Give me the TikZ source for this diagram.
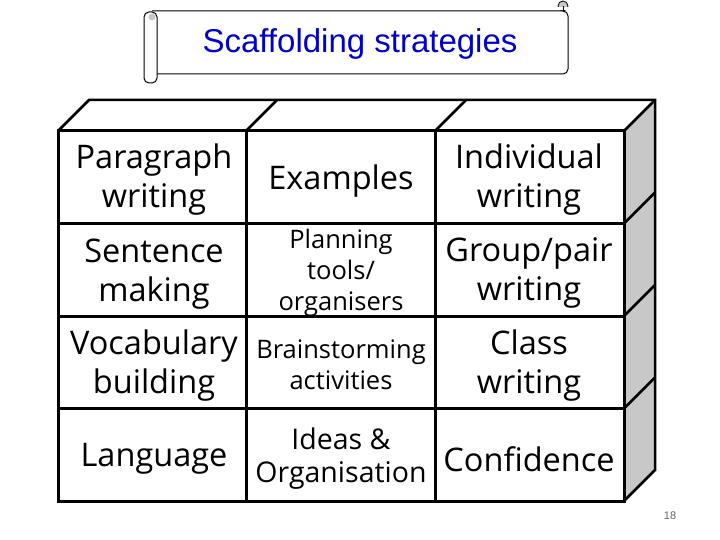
\documentclass[tikz,border=0pt]{standalone}
\usepackage{fontspec}
\setmainfont{Liberation Sans}
\newfontfamily\cellfont{Open Sans}
\usetikzlibrary{calc}
\definecolor{titleblue}{RGB}{0,0,204}
\definecolor{sidegray}{RGB}{200,200,200}
\tikzset{
  cell/.style={align=center, inner sep=0pt, font=\cellfont\fontsize{32.5}{39}\selectfont},
  smallcell/.style={cell, font=\cellfont\fontsize{25.5}{31}\selectfont},
  boxline/.style={line width=3pt},
}

\begin{document}
\begin{tikzpicture}[x=1pt, y=-1pt]
    \useasboundingbox (0,0) rectangle (720,540);
    % title scroll
    \draw[line width=1pt, rounded corners=5pt] (152,11) -- (568,11) -- (568,74) -- (155,74);
    \fill[sidegray] (563,6) circle (5pt);
    \draw[line width=0.8pt] (563,6) circle (5pt);
    \fill[white] (557,7) rectangle (567.5,10.5);
    \draw[line width=0.8pt] (563,6) -- (563,11);
    \draw[line width=1pt, fill=white, rounded corners=5pt] (144,12) rectangle (157,83);
    \fill[sidegray] (152,17) circle (3.5pt);
    \node[font=\fontsize{33}{40}\selectfont, text=titleblue] (title) at (360,44) {Scaffolding strategies};
    % side face
    \fill[sidegray] (624,131) -- (655,100) -- (655,470) -- (624,501) -- cycle;
    % front grid
    \draw[boxline] (58,131) rectangle (624,501);
    \foreach \y in {223.5,316,408.5}
        \draw[boxline] (58,\y) -- (624,\y);
    \foreach \x in {246,435}
        \draw[boxline] (\x,131) -- (\x,501);
    % top and side outline
    \draw[line width=2.5pt, line join=miter] (58,131) -- (89,100) -- (655,100) -- (655,470) -- (624,501);
    \foreach \x in {246,435,624}
        \draw[line width=2.5pt] (\x,131) -- ++(31,-31);
    \foreach \y in {223.5,316,408.5}
        \draw[line width=2.5pt] (624,\y) -- ++(31,-31);
    % cells
    \node[cell] (para) at (154,180) {Paragraph\\writing};
    \node[cell] (examples) at (341,181) {Examples};
    \node[cell] (indiv) at (529,180) {Individual\\writing};
    \node[cell] (sentence) at (154,274) {Sentence\\making};
    \node[smallcell] (planning) at (341,273) {Planning\\tools/\\organisers};
    \node[cell] (group) at (529,273) {Group/pair\\writing};
    \node[cell] (vocab) at (154,366) {Vocabulary\\building};
    \node[smallcell] (brain) at (341,365) {Brainstorming\\activities};
    \node[cell] (class) at (529,366) {Class\\writing};
    \node[cell] (language) at (154,459) {Language};
    \node[smallcell, font=\cellfont\fontsize{28.5}{33}\selectfont] (ideas) at (341,459) {Ideas \&\\Organisation};
    \node[cell] (confidence) at (529,459) {Confidence};
    % slide number
    \node[font=\rmfamily\fontsize{11}{13}\selectfont, text=black!60] (num) at (670,516) {18};
\end{tikzpicture}
\end{document}
